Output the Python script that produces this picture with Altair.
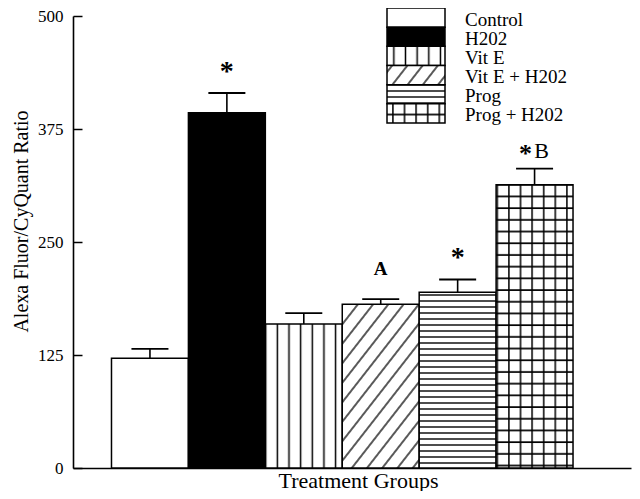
import altair as alt
import pandas as pd

# ---- data ----
groups = ["Control", "H202", "Vit E", "Vit E + H202", "Prog", "Prog + H202"]
means = [121.5, 393.0, 159.4, 181.2, 194.3, 313.3]
upper = [131.8, 414.8, 171.4, 186.7, 208.5, 331.1]
fills = ["white", "black", "url(#pV)", "url(#pD)", "url(#pH)", "url(#pG)"]
y_ticks = [0, 125, 250, 375, 500]

star_groups = ["H202", "Prog"]
star_y = [438, 232]
a_groups = ["Vit E + H202"]
a_y = [220]
starb_groups = ["Prog + H202"]
starb_y = [347]
b_groups = ["Prog + H202"]
b_y = [351]

FONT = "Liberation Serif"
W, H = 558, 452

df = pd.DataFrame({"group": groups, "mean": means, "upper": upper})
leg_df = pd.DataFrame({"group": groups})
stars_df = pd.DataFrame({"group": star_groups, "y": star_y, "t": ["*"] * len(star_groups)})
a_df = pd.DataFrame({"group": a_groups, "y": a_y, "t": ["A"]})
starb_df = pd.DataFrame({"group": starb_groups, "y": starb_y, "t": ["*"]})
b_df = pd.DataFrame({"group": b_groups, "y": b_y, "t": ["B"]})

xaxis = alt.Axis(labels=False, ticks=False, domainColor="black", domainWidth=1.6,
                 title="Treatment Groups", titleFont=FONT, titleFontSize=22,
                 titleFontWeight="normal", titleColor="black",
                 titleBaseline="alphabetic", titleY=19, titleX=285)


def xenc():
    return alt.X("group:N", sort=groups,
                 scale=alt.Scale(domain=groups, paddingInner=0, paddingOuter=0.627, align=0.399),
                 axis=xaxis)


def yscale():
    return alt.Scale(domain=[0, 500], nice=False, zero=True)


fill_scale = alt.Scale(domain=groups, range=fills)

bars = alt.Chart(df).mark_bar(stroke="black", strokeWidth=1.5).encode(
    x=xenc(),
    y=alt.Y("mean:Q", scale=yscale(),
            axis=alt.Axis(values=y_ticks, ticks=False, labelPadding=10, labelFont=FONT,
                          labelFontSize=17, labelColor="black", domainColor="black",
                          domainWidth=1.6, grid=False, title="Alexa Fluor/CyQuant Ratio",
                          titleFont=FONT, titleFontSize=20, titleFontWeight="normal",
                          titleColor="black", titleX=-42, titleY=205)),
    fill=alt.Fill("group:N", scale=fill_scale, legend=None),
)

rules = alt.Chart(df).mark_rule(color="black", strokeWidth=1.6).encode(
    x=xenc(),
    y=alt.Y("mean:Q", scale=yscale(),
            axis=alt.Axis(orient="right", offset=-W, values=y_ticks, labels=False,
                          domain=False, tickSize=9, tickWidth=1.5, tickColor="black",
                          grid=False, title=None)),
    y2="upper:Q",
)

caps = alt.Chart(df).mark_tick(color="black", thickness=1.8, size=37, opacity=1).encode(
    x=xenc(),
    y=alt.Y("upper:Q", scale=yscale(), axis=None),
)

stars = alt.Chart(stars_df).mark_text(font=FONT, fontSize=28, fontWeight="bold",
                                      color="black", baseline="middle").encode(
    x=xenc(), y=alt.Y("y:Q", scale=yscale(), axis=None), text="t:N")

a_txt = alt.Chart(a_df).mark_text(font=FONT, fontSize=19, fontWeight="bold",
                                  color="black", baseline="middle").encode(
    x=xenc(), y=alt.Y("y:Q", scale=yscale(), axis=None), text="t:N")

starb = alt.Chart(starb_df).mark_text(font=FONT, fontSize=26, fontWeight="bold",
                                      color="black", baseline="middle", dx=-9).encode(
    x=xenc(), y=alt.Y("y:Q", scale=yscale(), axis=None), text="t:N")

b_txt = alt.Chart(b_df).mark_text(font=FONT, fontSize=22, fontWeight="normal",
                                  color="black", baseline="middle", dx=7).encode(
    x=xenc(), y=alt.Y("y:Q", scale=yscale(), axis=None), text="t:N")


def leg_y():
    return alt.Y("group:N", sort=groups,
                 scale=alt.Scale(domain=groups, range=[-8, 107], paddingInner=0, paddingOuter=0),
                 axis=None)


leg_rect = alt.Chart(leg_df).mark_rect(stroke="black", strokeWidth=1.5).encode(
    x=alt.value(314), x2=alt.value(372), y=leg_y(),
    fill=alt.Fill("group:N", scale=fill_scale, legend=None),
)

leg_text = alt.Chart(leg_df).mark_text(font=FONT, fontSize=19, color="black",
                                       align="left", baseline="middle", dy=2).encode(
    x=alt.value(392), y=leg_y(), text="group:N",
)

chart = alt.layer(bars, rules, caps, stars, a_txt, starb, b_txt, leg_rect, leg_text).resolve_scale(
    y="independent"
).properties(
    width=W, height=H,
    padding={"left": 65, "top": 8, "right": 1, "bottom": 23},
    autosize=alt.AutoSizeParams(type="none"),
).configure_view(strokeWidth=0)

chart.save("out.html", embed_options={"renderer": "svg", "actions": False})

DEFS = """
<svg width="0" height="0" style="position:absolute;left:0;top:0" aria-hidden="true">
<defs>
<pattern id="pV" patternUnits="userSpaceOnUse" width="11.65" height="10">
<rect width="11.65" height="10" fill="white"/>
<line x1="6.3" y1="0" x2="6.3" y2="10" stroke="black" stroke-width="1.5"/>
</pattern>
<pattern id="pD" patternUnits="userSpaceOnUse" width="12" height="12" patternTransform="rotate(38)">
<rect width="12" height="12" fill="white"/>
<line x1="6" y1="-1" x2="6" y2="13" stroke="black" stroke-width="1.3"/>
</pattern>
<pattern id="pH" patternUnits="userSpaceOnUse" width="10" height="6">
<rect width="10" height="6" fill="white"/>
<line x1="0" y1="3" x2="10" y2="3" stroke="black" stroke-width="1.4"/>
</pattern>
<pattern id="pG" patternUnits="userSpaceOnUse" width="11.6" height="11.7">
<rect width="11.6" height="11.7" fill="white"/>
<path d="M6.7,0V11.7M0,5H11.6" stroke="black" stroke-width="1.5" fill="none"/>
</pattern>
</defs>
</svg>
"""

with open("out.html", encoding="utf-8") as f:
    html = f.read()
if "<body>" in html:
    html = html.replace("<body>", "<body>\n" + DEFS, 1)
else:
    html = html.replace('<div id="vis">', DEFS + '<div id="vis">', 1)
with open("out.html", "w", encoding="utf-8") as f:
    f.write(html)
